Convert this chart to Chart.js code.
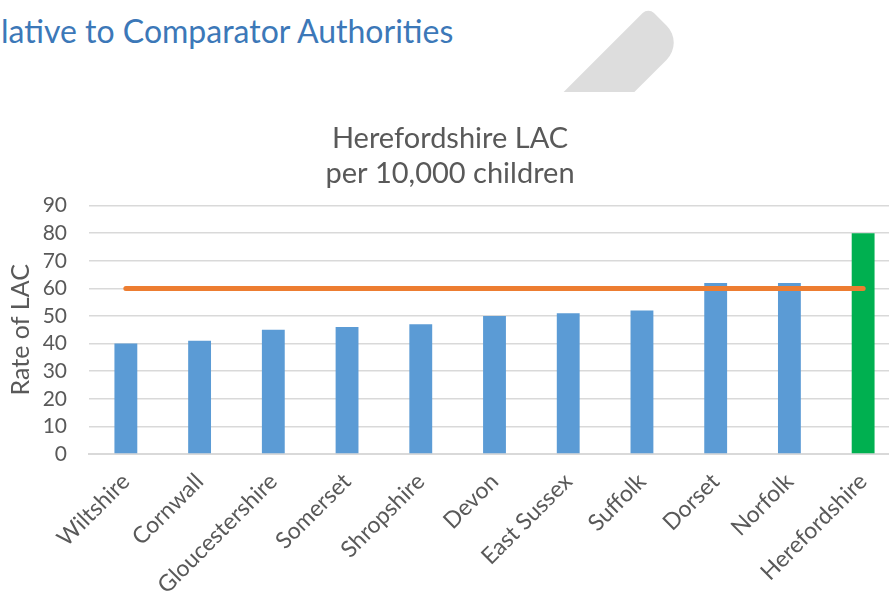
<!DOCTYPE html>
<html>
<head>
<meta charset="utf-8">
<script src="https://cdn.jsdelivr.net/npm/chart.js@4"></script>
<style>
  html, body { margin: 0; padding: 0; background: #fff; width: 889px; height: 592px; overflow: hidden; position: relative; font-family: Lato, sans-serif; }
  #slideTitle { position: absolute; left: 1px; top: 11px; font-size: 32px; color: #3C78B8; white-space: nowrap; }
  #deco { position: absolute; left: 0; top: 0; width: 889px; height: 92px; overflow: hidden; }
  #deco div { position: absolute; left: 641px; top: 25px; width: 50px; height: 190px; background: #DDDDDD;
              border-radius: 8px 24px 0 0; transform-origin: 50% 0; transform: rotate(45deg); }
  #wrap { position: absolute; left: 0; top: 100px; width: 920px; height: 492px; }
</style>
</head>
<body>
<div id="slideTitle">lative to Comparator Authorities</div>
<div id="deco"><div></div></div>
<div id="wrap"><canvas id="lacChart" width="920" height="492"></canvas></div>
<script>
const authorities = ['Wiltshire', 'Cornwall', 'Gloucestershire', 'Somerset', 'Shropshire', 'Devon', 'East Sussex', 'Suffolk', 'Dorset', 'Norfolk', 'Herefordshire'];
const lacRates = [40, 41, 45, 46, 47, 50, 51, 52, 62, 62, 80];
const comparatorAverage = [60, 60, 60, 60, 60, 60, 60, 60, 60, 60, 60];
const yTicks = [0, 10, 20, 30, 40, 50, 60, 70, 80, 90];

const grey = '#595959';
const barColours = authorities.map(a => a === 'Herefordshire' ? '#00B050' : '#5B9BD5');

const ctx = document.getElementById('lacChart');

new Chart(ctx, {
    type: 'bar',
    data: {
        labels: authorities,
        datasets: [{
            type: 'line',
            label: 'Average',
            data: comparatorAverage,
            borderColor: '#ED7D31',
            borderWidth: 5,
            borderCapStyle: 'round',
            pointRadius: 0,
            fill: false,
            order: 0
        }, {
            label: 'Rate of LAC',
            data: lacRates,
            backgroundColor: barColours,
            barPercentage: 0.31,
            categoryPercentage: 1,
            order: 1
        }]
    },
    options: {
        responsive: false,
        animation: false,
        layout: { padding: { left: 0, right: 20, top: 14, bottom: 0 } },
        plugins: {
            legend: { display: false },
            tooltip: { enabled: false },
            title: {
                display: true,
                text: ['Herefordshire LAC', 'per 10,000 children'],
                color: grey,
                font: { family: 'Lato', size: 29, weight: 'normal' },
                lineHeight: 1.24,
                padding: { top: 7, bottom: 15 }
            }
        },
        scales: {
            x: {
                grid: { display: false },
                border: { color: '#D9D9D9', width: 2 },
                ticks: {
                    color: grey,
                    font: { family: 'Lato', size: 23 },
                    minRotation: 45,
                    maxRotation: 45,
                    autoSkip: false,
                    padding: 6
                },
                afterFit: s => { s.height = 138; }
            },
            y: {
                min: 0,
                max: 90,
                afterBuildTicks: s => { s.ticks = yTicks.map(v => ({ value: v })); },
                grid: { color: '#D9D9D9', lineWidth: 1.5, drawTicks: false },
                border: { display: false },
                ticks: {
                    color: grey,
                    font: { family: 'Lato', size: 21 },
                    autoSkip: false,
                    padding: 22
                },
                title: {
                    display: true,
                    text: 'Rate of LAC',
                    color: grey,
                    font: { family: 'Lato', size: 25 },
                    padding: { top: 6, bottom: 0 }
                },
                afterFit: s => { s.width = 89; }
            }
        }
    }
});
</script>
</body>
</html>
